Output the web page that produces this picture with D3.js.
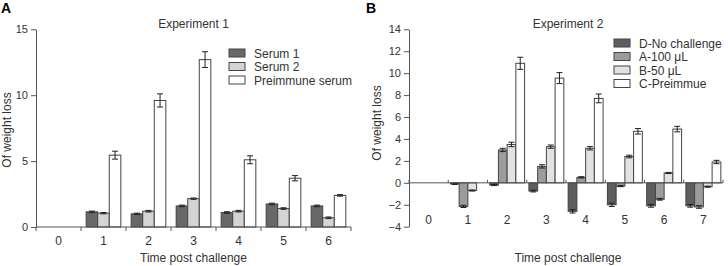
<!DOCTYPE html>
<html>
<head>
<meta charset="utf-8">
<script src="https://cdn.jsdelivr.net/npm/d3@7"></script>
<style>
  body { margin: 0; background: #fff; }
  svg text { font-family: "Liberation Sans", Arial, sans-serif; fill: #333; }
  .axis path, .axis line { stroke: #555; }
</style>
</head>
<body>
<script>
// Panel A data
var catsA = ["0", "1", "2", "3", "4", "5", "6"]
var seriesA = ["Serum 1", "Serum 2", "Preimmune serum"]
var serum1 = [null, 1.15, 1.0, 1.6, 1.1, 1.75, 1.6]
var serum1Err = [null, 0.06, 0.05, 0.06, 0.06, 0.06, 0.06]
var serum2 = [null, 1.05, 1.2, 2.15, 1.2, 1.4, 0.7]
var serum2Err = [null, 0.05, 0.06, 0.05, 0.06, 0.06, 0.06]
var preimmune = [null, 5.45, 9.6, 12.7, 5.1, 3.7, 2.4]
var preimmuneErr = [null, 0.3, 0.5, 0.6, 0.3, 0.2, 0.06]
var ticksA = [0, 5, 10, 15]

// Panel B data
var catsB = ["0", "1", "2", "3", "4", "5", "6", "7"]
var seriesB = ["D-No challenge", "A-100 \u03bcL", "B-50 \u03bcL", "C-Preimmue"]
var noChallenge = [null, -0.1, -0.2, -0.75, -2.6, -2.0, -2.1, -2.1]
var noChallengeErr = [null, 0.05, 0.05, 0.08, 0.15, 0.15, 0.12, 0.12]
var a100 = [null, -2.15, 3.0, 1.5, 0.5, -0.3, -1.5, -2.2]
var a100Err = [null, 0.1, 0.15, 0.15, 0.06, 0.05, 0.08, 0.12]
var b50 = [null, -0.7, 3.5, 3.3, 3.15, 2.4, 0.9, -0.35]
var b50Err = [null, 0.05, 0.2, 0.15, 0.15, 0.12, 0.05, 0.05]
var cPre = [null, null, 10.9, 9.55, 7.7, 4.7, 4.9, 1.9]
var cPreErr = [null, null, 0.55, 0.5, 0.4, 0.25, 0.25, 0.15]
var ticksB = [-4, -2, 0, 2, 4, 6, 8, 10, 12, 14]

var svg = d3.select("body").append("svg")
  .attr("width", 728)
  .attr("height", 266)

function panel(opt) {
  var g = svg.append("g")
  var x0 = d3.scaleBand().domain(opt.cats).range(opt.xr)
  var bw = x0.bandwidth()
  var x1 = d3.scaleBand().domain(opt.series).range([bw * opt.gpad, bw * (1 - opt.gpad)])
  var y = d3.scaleLinear().domain(opt.yd).range(opt.yr)

  // bars + error bars
  opt.series.forEach(function(s, si) {
    var vals = opt.values[si], errs = opt.errors[si]
    opt.cats.forEach(function(c, i) {
      var v = vals[i]
      if (v == null) return
      var bx = x0(c) + x1(s)
      g.append("rect")
        .attr("x", bx)
        .attr("y", Math.min(y(v), y(0)))
        .attr("width", x1.bandwidth())
        .attr("height", Math.abs(y(v) - y(0)))
        .attr("fill", opt.colors[si])
        .attr("stroke", "#444")
        .attr("stroke-width", 1)
      var cx = bx + x1.bandwidth() / 2
      var e = errs[i]
      g.append("line")
        .attr("x1", cx).attr("x2", cx)
        .attr("y1", y(v - e)).attr("y2", y(v + e))
        .attr("stroke", "#222")
      ;[v - e, v + e].forEach(function(t) {
        g.append("line")
          .attr("x1", cx - 3).attr("x2", cx + 3)
          .attr("y1", y(t)).attr("y2", y(t))
          .attr("stroke", "#222")
      })
    })
  })

  // y axis
  g.append("g")
    .attr("class", "axis")
    .attr("transform", "translate(" + opt.xr[0] + ",0)")
    .call(d3.axisLeft(y).tickValues(opt.ticks).tickSize(5).tickSizeOuter(0).tickFormat(d3.format("d")))
    .call(function(a) { a.selectAll("text").attr("font-size", 11).style("fill", "#333") })
    .attr("font-family", null)

  // x axis line at zero, ticks at category edges
  var y0 = y(0)
  g.append("line")
    .attr("x1", opt.xr[0]).attr("x2", opt.xr[1])
    .attr("y1", y0).attr("y2", y0)
    .attr("stroke", "#555")
  var bounds = opt.cats.map(function(c) { return x0(c) }).concat([opt.xr[1]])
  bounds.forEach(function(b) {
    g.append("line")
      .attr("x1", b).attr("x2", b)
      .attr("y1", y0).attr("y2", y0 + opt.tickDir)
      .attr("stroke", "#555")
  })
  opt.cats.forEach(function(c) {
    g.append("text")
      .attr("x", x0(c) + bw / 2)
      .attr("y", opt.labelY)
      .attr("text-anchor", "middle")
      .attr("font-size", 12)
      .text(c)
  })

  var mid = (opt.xr[0] + opt.xr[1]) / 2 + opt.titleShift
  g.append("text")
    .attr("x", mid).attr("y", 28)
    .attr("text-anchor", "middle")
    .attr("font-size", 12)
    .text(opt.title)
  g.append("text")
    .attr("x", mid).attr("y", 262)
    .attr("text-anchor", "middle")
    .attr("font-size", 12)
    .text("Time post challenge")
  g.append("text")
    .attr("transform", "translate(" + opt.ylab[0] + "," + opt.ylab[1] + ") rotate(-90)")
    .attr("text-anchor", "middle")
    .attr("font-size", 12)
    .text("Of weight loss")
  g.append("text")
    .attr("x", opt.letter).attr("y", 13)
    .attr("font-size", 14)
    .attr("font-weight", "bold")
    .style("fill", "#000")
    .text(opt.letterText)

  // legend
  opt.series.forEach(function(s, si) {
    var ly = opt.legend[1] + si * opt.legend[2]
    g.append("rect")
      .attr("x", opt.legend[0]).attr("y", ly - 4)
      .attr("width", 16).attr("height", 8)
      .attr("fill", opt.colors[si])
      .attr("stroke", "#444")
    g.append("text")
      .attr("x", opt.legend[0] + 25).attr("y", ly + 4.5)
      .attr("font-size", 12)
      .text(s)
  })
}

panel({
  cats: catsA, series: seriesA,
  values: [serum1, serum2, preimmune],
  errors: [serum1Err, serum2Err, preimmuneErr],
  colors: ["#686868", "#d4d4d4", "#ffffff"],
  xr: [36, 351], yd: [0, 15], yr: [227, 29.3], ticks: ticksA,
  gpad: 0.115, tickDir: 4, labelY: 245, title: "Experiment 1", titleShift: 0,
  ylab: [11, 130], letter: 1, letterText: "A",
  legend: [229, 53, 13.5]
})

panel({
  cats: catsB, series: seriesB,
  values: [noChallenge, a100, b50, cPre],
  errors: [noChallengeErr, a100Err, b50Err, cPreErr],
  colors: ["#5e5e5e", "#9c9c9c", "#e2e2e2", "#ffffff"],
  xr: [409, 723], yd: [-4, 14], yr: [226.7, 29.3], ticks: ticksB,
  gpad: 0.055, tickDir: -3, labelY: 224, title: "Experiment 2", titleShift: 2,
  ylab: [381, 123], letter: 366, letterText: "B",
  legend: [614, 43, 13.5]
})
</script>
</body>
</html>
